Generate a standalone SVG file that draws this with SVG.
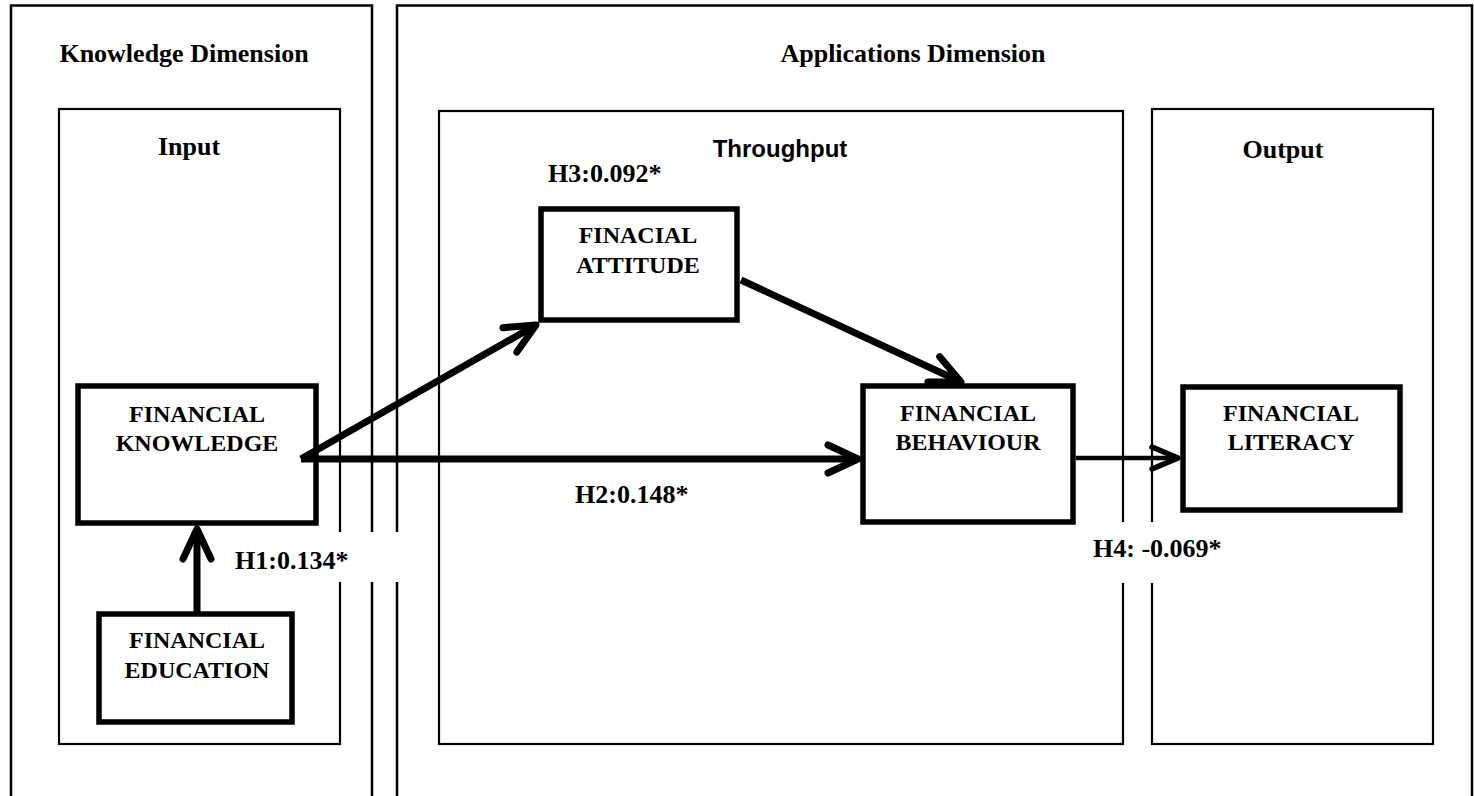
<svg xmlns="http://www.w3.org/2000/svg" width="1474" height="796" viewBox="0 0 1474 796">
<style>
.frame{fill:none;stroke:#000;stroke-width:2.5}
.panel{fill:none;stroke:#000;stroke-width:2.2}
.node{fill:#fff;stroke:#000;stroke-width:5.5}
.t{font-family:"Liberation Serif","Times New Roman",serif;font-weight:bold;fill:#000;text-anchor:middle}
.h{font-size:26px}
.n{font-size:24px}
.lbl{font-family:"Liberation Serif","Times New Roman",serif;font-weight:bold;font-size:26px;fill:#000}
.sans{font-family:"Liberation Sans",Arial,sans-serif;font-weight:bold;font-size:24px;fill:#000;text-anchor:middle}
.edge{stroke:#000;stroke-width:7;fill:none}
.thin{stroke:#000;stroke-width:4.5;fill:none}
</style>
<defs>
<marker id="chev" viewBox="-40 -20 46 40" refX="0" refY="0" markerWidth="46" markerHeight="40" markerUnits="userSpaceOnUse" orient="auto">
<path d="M-30,-14 L0,0 L-30,14" fill="none" stroke="#000" stroke-width="7" stroke-linecap="round" stroke-linejoin="round"/>
</marker>
<marker id="chevs" viewBox="-40 -20 46 40" refX="0" refY="0" markerWidth="46" markerHeight="40" markerUnits="userSpaceOnUse" orient="auto">
<path d="M-26,-11 L0,0 L-26,11" fill="none" stroke="#000" stroke-width="5.5" stroke-linecap="round" stroke-linejoin="round"/>
</marker>
</defs>
<rect width="1474" height="796" fill="#fff"/>
<g id="knowledge-dimension">
<rect class="frame" x="11" y="5.5" width="361" height="820"/>
<text class="t h" x="184" y="62">Knowledge Dimension</text>
</g>
<g id="applications-dimension">
<rect class="frame" x="397" y="5.5" width="1075" height="820"/>
<text class="t h" x="913" y="62">Applications Dimension</text>
</g>
<g id="input">
<rect class="panel" x="59" y="109" width="281" height="635"/>
<text class="t h" x="189" y="155">Input</text>
</g>
<g id="throughput">
<rect class="panel" x="439" y="111" width="684" height="633"/>
<text class="sans" x="780" y="157">Throughput</text>
</g>
<g id="output">
<rect class="panel" x="1152" y="109" width="281" height="635"/>
<text class="t h" x="1283" y="158">Output</text>
</g>
<g id="financial-knowledge">
<rect class="node" x="78" y="386" width="238" height="137"/>
<text class="t n" x="197" y="422">FINANCIAL</text>
<text class="t n" x="197" y="451">KNOWLEDGE</text>
</g>
<g id="financial-education">
<rect class="node" x="99" y="614" width="193" height="108"/>
<text class="t n" x="197" y="648">FINANCIAL</text>
<text class="t n" x="197" y="678">EDUCATION</text>
</g>
<g id="financial-attitude">
<rect class="node" x="541" y="209" width="196" height="111"/>
<text class="t n" x="638" y="243">FINACIAL</text>
<text class="t n" x="638" y="273">ATTITUDE</text>
</g>
<g id="financial-behaviour">
<rect class="node" x="863" y="386" width="210" height="136"/>
<text class="t n" x="968" y="421">FINANCIAL</text>
<text class="t n" x="968" y="450">BEHAVIOUR</text>
</g>
<g id="financial-literacy">
<rect class="node" x="1183" y="387" width="217" height="123"/>
<text class="t n" x="1291" y="421">FINANCIAL</text>
<text class="t n" x="1291" y="450">LITERACY</text>
</g>
<g id="connectors">
<line class="edge" x1="197" y1="612" x2="197" y2="529" marker-end="url(#chev)"/>
<line class="edge" x1="301" y1="459" x2="536" y2="325" marker-end="url(#chev)"/>
<line class="edge" x1="301" y1="459" x2="858" y2="459" marker-end="url(#chev)"/>
<line class="edge" x1="741" y1="280" x2="961" y2="382" marker-end="url(#chev)"/>
<line class="thin" x1="1076" y1="458" x2="1178" y2="458" marker-end="url(#chevs)"/>
</g>
<g id="labels">
<rect x="228" y="532" width="171" height="50" fill="#fff"/>
<text class="lbl" x="235" y="569">H1:0.134*</text>
<text class="lbl" x="575" y="503">H2:0.148*</text>
<text class="lbl" x="548" y="182">H3:0.092*</text>
<rect x="1085" y="522" width="150" height="61" fill="#fff"/>
<text class="lbl" x="1093" y="557">H4: -0.069*</text>
</g>
</svg>
